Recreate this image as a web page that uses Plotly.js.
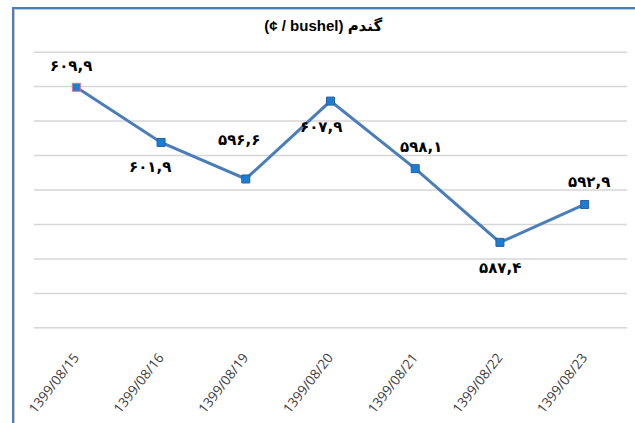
<!DOCTYPE html>
<html>
<head>
<meta charset="utf-8">
<script src="https://cdn.plot.ly/plotly-3.0.1.min.js"></script>
<style>
  html, body { margin: 0; padding: 0; background: #fff; }
  #wrap { position: relative; width: 635px; height: 423px; overflow: hidden; }
  #chart { position: absolute; left: 0; top: 0; width: 635px; height: 423px; }
  #frame { position: absolute; left: 12px; top: 7px; right: -10px; bottom: -10px;
           border-left: 2px solid #4a7ebb; border-top: 2px solid #4a7ebb;
           box-shadow: inset 1px 1px 0 #c8c8c8; pointer-events: none; }
</style>
</head>
<body>
<div id="wrap">
  <div id="chart"></div>
  <div id="frame"></div>
</div>
<script>
const chartTitle = "(¢ / bushel) گندم";
const categories = ["1399/08/15", "1399/08/16", "1399/08/19", "1399/08/20", "1399/08/21", "1399/08/22", "1399/08/23"];
const prices = [609.9, 601.9, 596.6, 607.9, 598.1, 587.4, 592.9];
const gridValues = [575, 580, 585, 590, 595, 600, 605, 610, 615];

// label placement styling (pixel offsets from each point)
const labelDX = [-5, -11, -7, -10, 6, 0, 4];
const labelDY = [21, -25, 39, -26, 22, -26, 22];

const faDigits = ["۰","۱","۲","۳","۴","۵","۶","۷","۸","۹"];
function toPersian(v) {
  return v.toFixed(1).replace(".", ",").replace(/[0-9]/g, d => faDigits[+d]);
}
const labels = prices.map(toPersian);

const trace = {
  x: categories,
  y: prices,
  type: "scatter",
  mode: "lines+markers",
  line: { color: "#4a7ebb", width: 3 },
  marker: {
    symbol: "square",
    size: 8,
    color: "#1a7fd4",
    line: { color: prices.map((_, i) => i === 0 ? "#e0708a" : "#2a5f9e"), width: 1 }
  },
  cliponaxis: false,
  hoverinfo: "skip"
};

const annotations = categories.map((c, i) => ({
  x: c, y: prices[i], xref: "x", yref: "y",
  text: labels[i], showarrow: false,
  xshift: labelDX[i], yshift: labelDY[i],
  xanchor: "center", yanchor: "middle",
  font: { family: "DejaVu Sans, Noto Sans", size: 15, color: "#000", weight: "bold" }
}));

const gridShapes = gridValues.map(v => ({
  type: "line", layer: "below",
  xref: "paper", x0: 0, x1: 1,
  yref: "y", y0: v, y1: v,
  line: { color: "#d6d6d6", width: 1.5 }
}));

const layout = {
  width: 635,
  height: 423,
  margin: { l: 34, r: 8, t: 48, b: 91 },
  paper_bgcolor: "#fff",
  plot_bgcolor: "#fff",
  showlegend: false,
  annotations: annotations,
  shapes: gridShapes,
  title: {
    text: chartTitle,
    font: { family: "Liberation Sans, DejaVu Sans", size: 15, color: "#000", weight: "bold" },
    x: 0.509, xanchor: "center", y: 0.938, yanchor: "middle"
  },
  xaxis: {
    type: "category",
    range: [-0.5, 6.5],
    showgrid: false,
    zeroline: false,
    showline: false,
    ticks: "",
    tickangle: -52,
    ticklabelstandoff: 14,
    ticklabelshift: -2,
    tickfont: { family: "Open Sans, Liberation Sans", size: 13.5, color: "#404040" }
  },
  yaxis: {
    range: [574.4, 615.6],
    tickmode: "array",
    tickvals: gridValues,
    showticklabels: false,
    ticks: "",
    showgrid: false,
    zeroline: false,
    showline: false
  }
};

Plotly.newPlot("chart", [trace], layout, { displayModeBar: false, staticPlot: true });
</script>
</body>
</html>
